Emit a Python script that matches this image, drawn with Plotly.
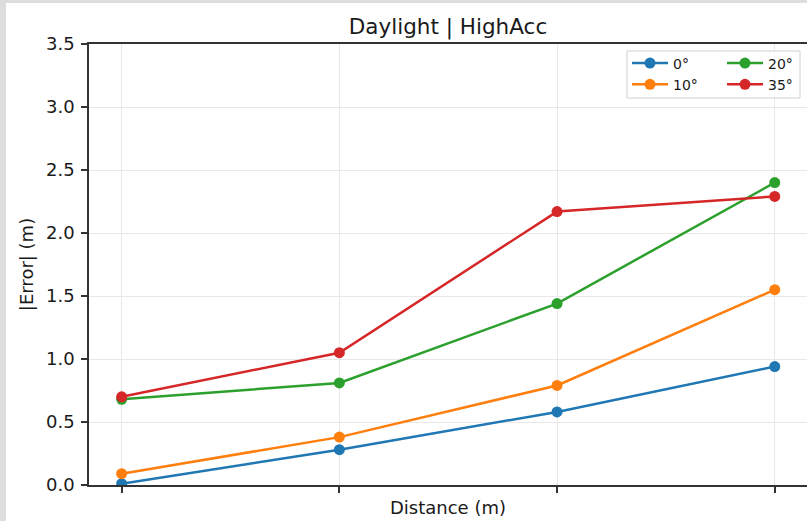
import plotly.graph_objects as go

# ---- data ----
x_positions = [0, 1, 2, 3]
x_tick_labels = ["", "", "", ""]
series_names = ["0°", "10°", "20°", "35°"]
err_0 = [0.01, 0.28, 0.58, 0.94]
err_10 = [0.09, 0.38, 0.79, 1.55]
err_20 = [0.68, 0.81, 1.44, 2.40]
err_35 = [0.70, 1.05, 2.17, 2.29]
y_ticks = [0.0, 0.5, 1.0, 1.5, 2.0, 2.5, 3.0, 3.5]

colors = ["#1f77b4", "#ff7f0e", "#2ca02c", "#d62728"]
values = [err_0, err_10, err_20, err_35]
legend_ids = ["legend", "legend", "legend2", "legend2"]

W, H = 807, 521
L, R, T, B = 89, 0, 44, 36
pw, ph = W - L - R, H - T - B

def px_x(p):
    return (p - L) / pw

def px_y(p):
    return (H - B - p) / ph

FONT = "DejaVu Sans"

fig = go.Figure()
for name, vals, col, lg in zip(series_names, values, colors, legend_ids):
    fig.add_trace(go.Scatter(
        x=x_positions, y=vals, mode="lines+markers", name=name,
        line=dict(color=col, width=2.5),
        marker=dict(color=col, size=11),
        legend=lg,
    ))

# x range: matplotlib 5% margins, axis right edge cut at the image border
unit = 217.7
x_lo = -0.15
x_hi = x_lo + pw / unit

fig.update_layout(
    width=W, height=H,
    margin=dict(l=L, r=R, t=T, b=B, pad=0, autoexpand=False),
    paper_bgcolor="white", plot_bgcolor="white",
    font=dict(family=FONT, size=18, color="#1a1a1a"),
    title=dict(text="Daylight | HighAcc", x=0.5, xref="paper", xanchor="center",
               y=1 - 26 / H, yref="container", yanchor="middle",
               font=dict(size=21.5, family=FONT, color="#1a1a1a")),
    xaxis=dict(range=[x_lo, x_hi], tickvals=x_positions, ticktext=x_tick_labels,
               ticks="outside", ticklen=6, tickwidth=1.5, tickcolor="#333",
               showline=True, linecolor="#333", linewidth=1.5, mirror=True,
               showgrid=True, gridcolor="#e8e8e8", gridwidth=1, zeroline=False,
               automargin=False,
               title=dict(text="Distance (m)", standoff=6, font=dict(size=18))),
    yaxis=dict(range=[0, 3.5], tickvals=y_ticks, tickformat=".1f",
               ticks="outside", ticklen=6, tickwidth=1.5, tickcolor="#333",
               showline=True, linecolor="#333", linewidth=1.5, mirror=False,
               showgrid=True, gridcolor="#e8e8e8", gridwidth=1, zeroline=False,
               ticklabelstandoff=3, automargin=False,
               title=dict(text="|Error| (m)", standoff=8, font=dict(size=18))),
    legend=dict(x=px_x(627), y=px_y(47.5), xanchor="left", yanchor="top",
                xref="paper", yref="paper", bgcolor="rgba(0,0,0,0)",
                borderwidth=0, font=dict(size=14, family=FONT), itemwidth=36),
    legend2=dict(x=px_x(722), y=px_y(47.5), xanchor="left", yanchor="top",
                 xref="paper", yref="paper", bgcolor="rgba(0,0,0,0)",
                 borderwidth=0, font=dict(size=14, family=FONT), itemwidth=36),
    showlegend=True,
)

shapes = [
    # legend frame
    dict(type="rect", xref="paper", yref="paper",
         x0=px_x(627), x1=px_x(800), y0=px_y(98), y1=px_y(51),
         line=dict(color="#d0d0d0", width=1), fillcolor="rgba(255,255,255,0.85)",
         layer="above"),
    # gray outer frame (left / top strips)
    dict(type="rect", xref="paper", yref="paper",
         x0=px_x(0), x1=px_x(6), y0=px_y(H), y1=px_y(0),
         line=dict(width=0), fillcolor="#dddddd", layer="below"),
    dict(type="rect", xref="paper", yref="paper",
         x0=px_x(0), x1=px_x(W), y0=px_y(3), y1=px_y(0),
         line=dict(width=0), fillcolor="#dddddd", layer="below"),
]
fig.update_layout(shapes=shapes)

fig.write_html("out.html", config={"displayModeBar": False},
               post_script="document.body.style.margin='0';document.body.style.overflow='hidden';")
